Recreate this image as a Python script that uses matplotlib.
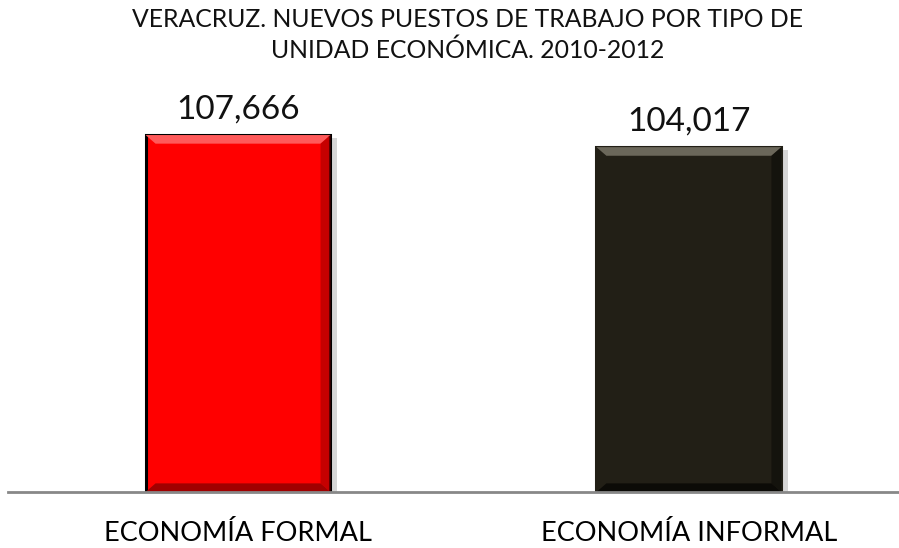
import matplotlib.pyplot as plt
from matplotlib.patches import Polygon
import matplotlib.patheffects as pe

categories = ['ECONOMÍA FORMAL', 'ECONOMÍA INFORMAL']
values = [107666, 104017]
labels = ['107,666', '104,017']
colors = ['#ff0000', '#221f16']
light = ['#ff5a5a', '#6b675a']
dark = ['#a00000', '#0c0b07']

plt.rcParams['font.family'] = ['Lato', 'DejaVu Sans']

fig = plt.figure(figsize=(8.99, 5.48), dpi=100)
ax = fig.add_axes([0.009, 0.1022, 0.991, 0.726])

x = list(range(len(categories)))
w = 0.41
bars = ax.bar(x, values, width=w, color=colors, edgecolor=['black', colors[1]],
              linewidth=2.2, zorder=2)
for b in bars:
    b.set_path_effects([pe.SimplePatchShadow(offset=(5, -2), shadow_rgbFace='#999999', alpha=0.4),
                        pe.Normal()])

# bevel on each bar
dx, dy = 0.022, 2600
for xi, v, lc, dc in zip(x, values, light, dark):
    l, r = xi - w / 2, xi + w / 2
    ax.add_patch(Polygon([(l, v), (r, v), (r - dx, v - dy), (l + dx, v - dy)],
                         closed=True, color=lc, lw=0, zorder=3))
    ax.add_patch(Polygon([(l, 0), (r, 0), (r - dx, dy), (l + dx, dy)],
                         closed=True, color=dc, lw=0, zorder=3))
    ax.add_patch(Polygon([(r, 0), (r, v), (r - dx, v - dy), (r - dx, dy)],
                         closed=True, color=dc, lw=0, alpha=0.6, zorder=3))

for xi, v, t in zip(x, values, labels):
    ax.text(xi, v + 3300, t, ha='center', va='bottom', fontsize=24, color='#111111')

ax.set_xlim(-0.51, 1.466)
ax.set_ylim(0, 120000)
ax.set_xticks(x)
ax.set_xticklabels(categories, fontsize=19.5)
ax.tick_params(axis='x', length=0, pad=21)
ax.set_yticks([])
for s in ['top', 'right', 'left']:
    ax.spines[s].set_visible(False)
ax.spines['bottom'].set_color('#888888')
ax.spines['bottom'].set_linewidth(2)
ax.spines['bottom'].set_zorder(4)

fig.text(0.520, 0.936, 'VERACRUZ. NUEVOS PUESTOS DE TRABAJO POR TIPO DE\nUNIDAD ECONÓMICA. 2010-2012',
         ha='center', va='center', fontsize=17.8, linespacing=1.38, color='#111111')

fig.savefig('out.png', dpi=100)
